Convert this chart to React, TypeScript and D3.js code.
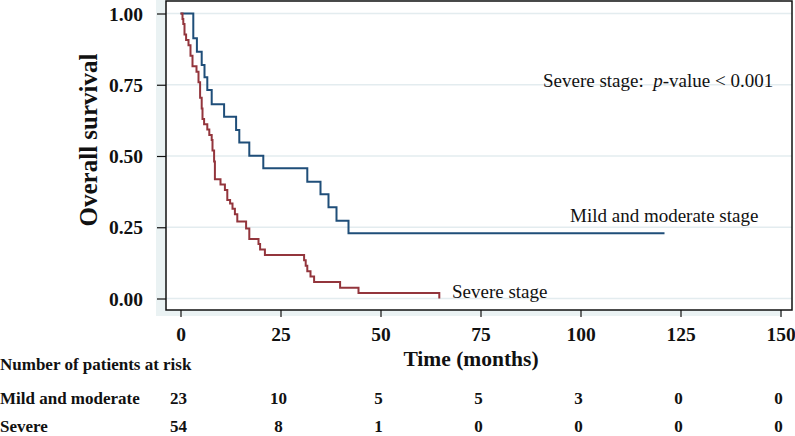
import { useEffect, useRef } from "react";
import * as d3 from "d3";

// time axis ticks (months) and survival ticks
const timeTicks = [0, 25, 50, 75, 100, 125, 150];
const survTicks = [0, 0.25, 0.5, 0.75, 1];

// Kaplan-Meier steps (time, survival after step)
const mildTimes = [0, 3.2, 4.1, 5.3, 6.0, 6.7, 7.8, 10.9, 13.9, 14.7, 17.2, 20.7, 31.7, 35.0, 37.0, 39.0, 42.0, 121.0];
const mildSurv = [1, 0.913, 0.866, 0.819, 0.776, 0.732, 0.682, 0.638, 0.591, 0.547, 0.501, 0.457, 0.41, 0.366, 0.32, 0.273, 0.229, 0.229];

const severeTimes = [0, 0.5, 0.7, 1.0, 1.4, 2.0, 2.5, 3.0, 4.0, 4.5, 4.9, 5.3, 5.5, 5.9, 6.7, 7.2, 7.8, 8.0, 8.4, 8.6, 10.0, 11.1, 11.7, 12.4, 13.0, 13.6, 14.2, 16.4, 17.2, 19.5, 19.9, 21.1, 30.9, 31.3, 31.7, 32.5, 33.4, 39.9, 44.5, 64.7];
const severeSurv = [1, 0.981, 0.963, 0.926, 0.907, 0.889, 0.852, 0.815, 0.796, 0.759, 0.704, 0.667, 0.63, 0.611, 0.593, 0.574, 0.556, 0.519, 0.481, 0.418, 0.4, 0.381, 0.346, 0.333, 0.315, 0.296, 0.27, 0.246, 0.209, 0.191, 0.172, 0.153, 0.134, 0.115, 0.096, 0.077, 0.058, 0.038, 0.019, 0.0];

// numbers at risk
const riskLabels = ["Mild and moderate", "Severe"];
const riskMild = [23, 10, 5, 5, 3, 0, 0];
const riskSevere = [54, 8, 1, 0, 0, 0, 0];

const serif = "'Liberation Serif', 'Times New Roman', serif";

const App = () => {
  const svgRef = useRef(null);

  useEffect(() => {
    const svg = d3.select(svgRef.current);
    svg.selectAll("*").remove();

    const frame = { left: 166, right: 792, top: 1, bottom: 310 };

    const x = d3.scaleLinear().domain([0, 150]).range([180.5, 780.5]);
    const y = d3.scaleLinear().domain([0, 1]).range([298.5, 13.5]);

    // light outer band + white plot region
    svg.append("rect")
      .attr("x", 156).attr("y", 0)
      .attr("width", 782 - 156).attr("height", 316)
      .attr("fill", "#eaf2f3");
    svg.append("rect")
      .attr("x", frame.left).attr("y", frame.top)
      .attr("width", frame.right - frame.left)
      .attr("height", frame.bottom - frame.top)
      .attr("fill", "#fff");

    // grid lines
    svg.append("g")
      .selectAll("line")
      .data(survTicks)
      .join("line")
      .attr("x1", frame.left).attr("x2", frame.right)
      .attr("y1", d => y(d)).attr("y2", d => y(d))
      .attr("stroke", "#e3ecef")
      .attr("stroke-width", 1.5);

    const line = d3.line()
      .x(d => x(d[0]))
      .y(d => y(d[1]))
      .curve(d3.curveStepAfter);

    const mild = mildTimes.map((t, i) => [t, mildSurv[i]]);
    const severe = severeTimes.map((t, i) => [t, severeSurv[i]]);

    svg.append("path")
      .attr("d", line(mild))
      .attr("fill", "none")
      .attr("stroke", "#1f4e79")
      .attr("stroke-width", 2);
    svg.append("path")
      .attr("d", line(severe))
      .attr("fill", "none")
      .attr("stroke", "#93353c")
      .attr("stroke-width", 2);

    // frame
    svg.append("rect")
      .attr("x", frame.left).attr("y", frame.top)
      .attr("width", frame.right - frame.left)
      .attr("height", frame.bottom - frame.top)
      .attr("fill", "none")
      .attr("stroke", "#111")
      .attr("stroke-width", 1.5);

    // y axis
    const yAxis = g =>
      g.attr("transform", `translate(${frame.left},0)`)
        .call(d3.axisLeft(y).tickValues(survTicks).tickFormat(d3.format(".2f")).tickSize(9).tickPadding(14))
        .call(g => g.select(".domain").remove())
        .call(g => g.selectAll(".tick line").attr("stroke", "#111").attr("stroke-width", 1.2))
        .call(g => g.selectAll(".tick text")
          .attr("font-family", serif).attr("font-size", 19.5).attr("font-weight", "bold")
          .attr("fill", "#111").attr("dy", "0.34em"));

    // x axis
    const xAxis = g =>
      g.attr("transform", `translate(0,${frame.bottom})`)
        .call(d3.axisBottom(x).tickValues(timeTicks).tickSize(7).tickPadding(10))
        .call(g => g.select(".domain").remove())
        .call(g => g.selectAll(".tick line").attr("stroke", "#111").attr("stroke-width", 1.2))
        .call(g => g.selectAll(".tick text")
          .attr("font-family", serif).attr("font-size", 19.5).attr("font-weight", "bold")
          .attr("fill", "#111"));

    svg.append("g").call(yAxis);
    svg.append("g").call(xAxis);

    // axis titles
    svg.append("text")
      .attr("transform", "translate(97,140) rotate(-90)")
      .attr("text-anchor", "middle")
      .attr("font-family", serif).attr("font-size", 25).attr("font-weight", "bold")
      .attr("fill", "#111")
      .text("Overall survival");

    svg.append("text")
      .attr("x", 471).attr("y", 366)
      .attr("text-anchor", "middle")
      .attr("font-family", serif).attr("font-size", 21.5).attr("font-weight", "bold")
      .attr("fill", "#111")
      .text("Time (months)");

    // annotations
    const note = svg.append("text")
      .attr("x", 543).attr("y", 87)
      .attr("font-family", serif).attr("font-size", 19)
      .attr("fill", "#111");
    note.append("tspan").text("Severe stage:\u00a0\u00a0");
    note.append("tspan").attr("font-style", "italic").text("p");
    note.append("tspan").text("-value < 0.001");

    svg.append("text")
      .attr("x", 570).attr("y", 222)
      .attr("font-family", serif).attr("font-size", 19)
      .attr("fill", "#111")
      .text("Mild and moderate stage");

    svg.append("text")
      .attr("x", 452).attr("y", 298)
      .attr("font-family", serif).attr("font-size", 19)
      .attr("fill", "#111")
      .text("Severe stage");

    // risk table
    svg.append("text")
      .attr("x", 0).attr("y", 370)
      .attr("font-family", serif).attr("font-size", 17).attr("font-weight", "bold")
      .attr("fill", "#111")
      .text("Number of patients at risk");

    const rows = [riskMild, riskSevere];
    const rowY = [403.5, 432];
    rows.forEach((vals, r) => {
      svg.append("text")
        .attr("x", 0).attr("y", rowY[r])
        .attr("font-family", serif).attr("font-size", 17).attr("font-weight", "bold")
        .attr("fill", "#111")
        .text(riskLabels[r]);
      svg.append("g")
        .selectAll("text")
        .data(vals)
        .join("text")
        .attr("x", (d, i) => x(timeTicks[i]) - 2)
        .attr("y", rowY[r])
        .attr("text-anchor", "middle")
        .attr("font-family", serif).attr("font-size", 17).attr("font-weight", "bold")
        .attr("fill", "#111")
        .text(d => d);
    });
  }, []);

  return (
    <svg
      ref={svgRef}
      width={795}
      height={436}
      style={{ position: "absolute", left: 0, top: 0, background: "#fff" }}
    ></svg>
  );
};

export default App;
